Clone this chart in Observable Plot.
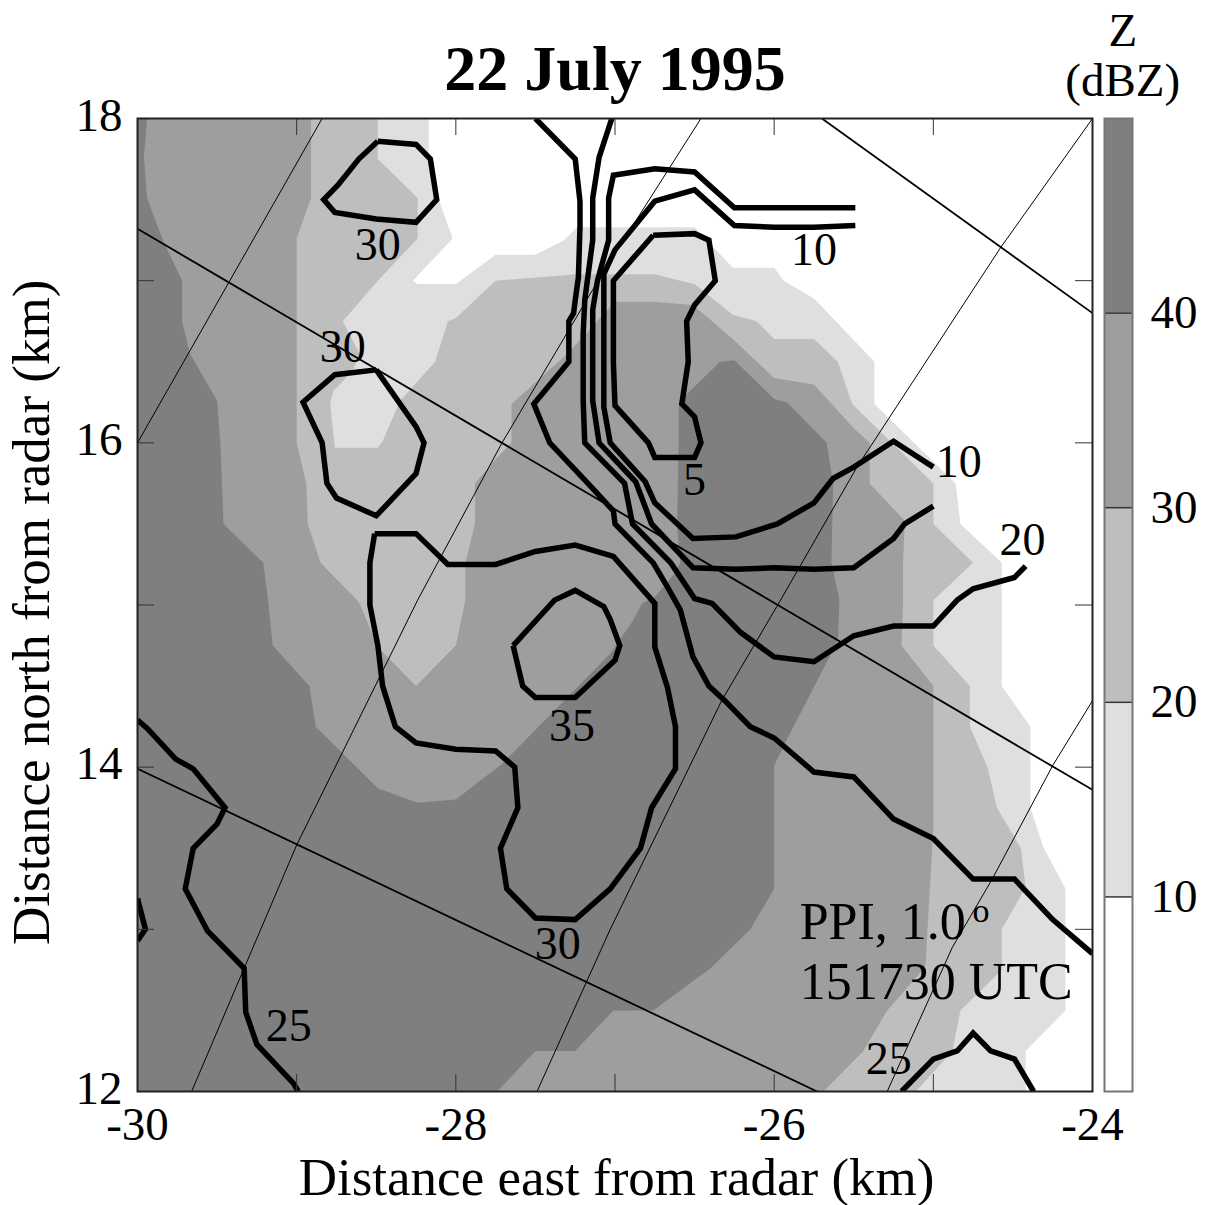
<!DOCTYPE html>
<html>
<head>
<meta charset="utf-8">
<script src="https://cdn.jsdelivr.net/npm/d3@7"></script>
<script src="https://cdn.jsdelivr.net/npm/@observablehq/plot@0.6"></script>
<style>
html,body{margin:0;padding:0;background:#fff}
#wrap{position:relative;width:1207px;height:1205px;overflow:hidden}
#wrap svg{position:absolute;top:0;background:transparent}
</style>
</head>
<body>
<div id="wrap"></div>
<script>
// Filled reflectivity regions (km east, km north); each is the area at or above the level
const z10 = [[-28.17,18],[-28.17,17.75],[-28.11,17.51],[-28.02,17.26],[-28.27,17],[-28.24,16.98],[-28,16.98],[-27.75,17.16],[-27.5,17.16],[-27.32,17.25],[-27.24,17.33],[-26.5,17.33],[-26.26,17.08],[-26,17.08],[-25.94,17],[-25.75,16.89],[-25.37,16.5],[-25.37,16.24],[-24.86,15.75],[-24.83,15.5],[-24.57,15.26],[-24.57,14.5],[-24.39,14.25],[-24.39,13.75],[-24.31,13.51],[-24.17,13.25],[-24.17,12.5],[-24.42,12.25],[-24.42,12],[-30,12],[-30,18]];
const z20 = [[-28.49,18],[-28.49,17.75],[-28.24,17.51],[-28.24,17.26],[-28.49,17],[-28.71,16.75],[-28.6,16.54],[-28.66,16.43],[-28.77,16.32],[-28.79,16.24],[-28.76,15.97],[-28.49,15.97],[-28.46,16.01],[-28.35,16.26],[-28.13,16.5],[-28.05,16.75],[-28,16.77],[-27.75,17],[-27.24,17.04],[-26.75,17.04],[-26.59,17],[-26.5,16.98],[-26.26,16.79],[-26.11,16.75],[-26,16.64],[-25.75,16.64],[-25.6,16.5],[-25.51,16.24],[-25,15.75],[-25,15.5],[-24.75,15.26],[-25,15.03],[-25,14.75],[-24.77,14.5],[-24.77,14.25],[-24.66,14],[-24.6,13.75],[-24.45,13.5],[-24.42,13.26],[-24.57,13],[-24.57,12.75],[-24.83,12.5],[-24.88,12.25],[-25.11,12],[-30,12],[-30,18]];
const z30 = [[-28.91,18],[-28.91,17.51],[-29,17.26],[-29,16],[-28.94,15.75],[-28.93,15.5],[-28.85,15.26],[-28.62,15.03],[-28.6,15],[-28.49,14.74],[-28.25,14.5],[-28,14.75],[-27.94,15.03],[-27.94,15.26],[-27.88,15.5],[-27.88,15.75],[-27.76,15.89],[-27.65,16],[-27.65,16.24],[-27.3,16.55],[-27,16.87],[-26.76,16.87],[-26.51,16.85],[-26.26,16.64],[-26,16.4],[-25.75,16.36],[-25.5,16.09],[-25.4,16],[-25.4,15.75],[-25.18,15.52],[-25.19,15.26],[-25.19,15.03],[-25.2,14.75],[-25,14.5],[-25,13.63],[-25.05,12.77],[-25.29,12.5],[-25.44,12.25],[-25.69,12],[-30,12],[-30,18]];
const z40 = [[-29.94,18],[-29.96,17.76],[-29.94,17.51],[-29.84,17.25],[-29.72,17],[-29.72,16.75],[-29.67,16.55],[-29.5,16.26],[-29.48,16.01],[-29.46,15.5],[-29.21,15.26],[-29.18,15.03],[-29.15,14.75],[-28.92,14.5],[-28.88,14.25],[-28.49,13.87],[-28.24,13.78],[-28,13.8],[-27.71,14.02],[-27.03,14.7],[-26.89,14.9],[-26.83,15.01],[-26.75,15.05],[-26.63,15.19],[-26.59,15.26],[-26.61,15.48],[-26.6,16.01],[-26.6,16.24],[-26.57,16.28],[-26.34,16.5],[-26.25,16.51],[-26,16.27],[-25.92,16.25],[-25.67,16],[-25.63,15.75],[-25.64,15.26],[-25.59,15.03],[-25.6,14.78],[-25.92,14.17],[-26,14.01],[-26,13.25],[-26.15,13],[-26.4,12.76],[-26.76,12.5],[-27.01,12.5],[-27.25,12.25],[-27.5,12.25],[-27.74,12],[-30,12],[-30,18]];

// Radial velocity contours
const blob30a = [[-28.49,17.86],[-28.25,17.84],[-28.16,17.75],[-28.12,17.5],[-28.25,17.36],[-28.5,17.38],[-28.76,17.42],[-28.83,17.5],[-28.74,17.59],[-28.61,17.75],[-28.49,17.86]];
const blob30b = [[-28.5,16.45],[-28.76,16.42],[-28.96,16.25],[-28.84,16],[-28.81,15.75],[-28.75,15.66],[-28.5,15.55],[-28.25,15.81],[-28.2,16],[-28.25,16.1],[-28.5,16.45]];
const loop30 = [[-28.51,15.44],[-28.25,15.44],[-28.05,15.25],[-27.75,15.25],[-27.5,15.33],[-27.25,15.37],[-27.01,15.3],[-26.75,15.01],[-26.75,14.74],[-26.67,14.49],[-26.62,14.25],[-26.62,13.99],[-26.77,13.75],[-26.84,13.5],[-27.03,13.25],[-27.25,13.06],[-27.5,13.07],[-27.68,13.25],[-27.72,13.5],[-27.61,13.75],[-27.63,14],[-27.75,14.1],[-28,14.11],[-28.25,14.15],[-28.38,14.25],[-28.46,14.5],[-28.49,14.75],[-28.54,15],[-28.54,15.26],[-28.51,15.44]];
const blob35 = [[-27.64,14.75],[-27.58,14.5],[-27.5,14.43],[-27.25,14.43],[-27,14.66],[-26.97,14.75],[-27.03,14.91],[-27.07,14.99],[-27.25,15.09],[-27.38,15.03],[-27.64,14.75]];
const west25 = [[-30,14.29],[-29.94,14.24],[-29.76,14.05],[-29.65,13.99],[-29.45,13.75],[-29.5,13.65],[-29.65,13.5],[-29.7,13.25],[-29.56,12.99],[-29.33,12.76],[-29.32,12.49],[-29.25,12.29],[-29.02,12.05],[-28.99,12]];
const edgeTick = [[-30,13.19],[-29.95,13],[-30,12.93]];
const south25 = [[-25.2,12],[-25,12.2],[-24.85,12.25],[-24.75,12.36],[-24.64,12.25],[-24.49,12.2],[-24.37,12]];
const loop5 = [[-26.76,17.28],[-26.5,17.29],[-26.41,17.25],[-26.37,17],[-26.5,16.85],[-26.55,16.75],[-26.54,16.5],[-26.58,16.24],[-26.5,16.16],[-26.46,16],[-26.5,15.91],[-26.75,15.91],[-26.79,16],[-27,16.23],[-27.01,16.49],[-27.01,17],[-26.76,17.28]];
const line25 = [[-27.5,18],[-27.25,17.75],[-27.22,17.49],[-27.22,17.33],[-27.23,17.02],[-27.25,16.88],[-27.26,16.8],[-27.29,16.75],[-27.29,16.5],[-27.51,16.24],[-27.41,16],[-27.17,15.75],[-27.01,15.58],[-27,15.5],[-26.76,15.26],[-26.67,15.11],[-26.59,14.97],[-26.51,14.68],[-26.41,14.5],[-26.31,14.41],[-26.15,14.25],[-26,14.18],[-25.75,13.97],[-25.5,13.94],[-25.25,13.68],[-25,13.56],[-24.75,13.31],[-24.49,13.31],[-24.25,13.06],[-24,12.85]];
const line20 = [[-27.02,18],[-27.1,17.76],[-27.14,17.51],[-27.14,17.25],[-27.19,16.88],[-27.2,16.67],[-27.2,16.26],[-27.19,16],[-26.94,15.75],[-26.89,15.5],[-26.65,15.26],[-26.5,15.04],[-26.39,15.01],[-26.21,14.83],[-26,14.68],[-25.75,14.65],[-25.5,14.81],[-25.25,14.87],[-25,14.87],[-24.85,15.03],[-24.75,15.1],[-24.49,15.17],[-24.42,15.24]];
const line15 = [[-25.49,17.45],[-25.75,17.45],[-26,17.45],[-26.25,17.45],[-26.5,17.67],[-26.75,17.69],[-27.01,17.65],[-27.04,17.51],[-27.04,17.25],[-27.11,17],[-27.14,16.82],[-27.14,16.26],[-27.1,16],[-26.87,15.76],[-26.77,15.5],[-26.51,15.23],[-26.24,15.22],[-26,15.23],[-25.75,15.22],[-25.5,15.23],[-25.25,15.41],[-25.18,15.5],[-25,15.61]];
const line10 = [[-25.49,17.34],[-25.75,17.33],[-26,17.33],[-26.25,17.34],[-26.5,17.56],[-26.75,17.49],[-27,17.19],[-27.07,17.04],[-27.07,16.22],[-27.03,16],[-26.81,15.76],[-26.75,15.63],[-26.51,15.41],[-26.24,15.42],[-25.98,15.5],[-25.75,15.63],[-25.63,15.78],[-25.5,15.85],[-25.25,16.01],[-25,15.85]];

// Radar azimuth spokes (thin) and range arcs (medium)
const spoke1 = [[-30,16],[-28.84,18]];
const spoke2 = [[-29.66,12],[-29,13.52],[-28.24,15.03],[-27.71,16],[-27.07,17.06],[-26.46,18]];
const spoke3 = [[-27.49,12],[-27.03,13],[-26.33,14.41],[-25.96,15.03],[-25.48,15.85],[-24.58,17.2],[-24,18]];
const spoke4 = [[-25.29,12],[-24.88,12.89],[-24.63,13.31],[-24.25,14.01],[-24,14.41]];
const arc1 = [[-30,17.32],[-24,13.86]];
const arc2 = [[-30,13.99],[-25.73,12]];
const arc3 = [[-25.7,18],[-24,16.8]];

const contourLabelText = ["30","30","10","10","5","20","35","30","25","25"];
const contourLabelX = [-28.49,-28.71,-25.75,-24.84,-26.5,-24.44,-27.27,-27.36,-29.05,-25.28];
const contourLabelY = [17.22,16.59,17.19,15.88,15.77,15.4,14.25,12.91,12.4,12.2];

const xLabelTicks = [-30,-28,-26,-24];
const yLabelTicks = [12,14,16,18];
const xMinorTicks = [-29,-28,-27,-26,-25];
const yMinorTicks = [13,14,15,16,17];

const bandLow = [0,10,20,30,40];
const bandHigh = [10,20,30,40,50];
const bandColor = ["#ffffff","#dfdfdf","#bebebe","#9e9e9e","#7f7f7f"];
const barTicks = [10,20,30,40];

const serif = "'Liberation Serif','Times New Roman',serif";
const px = d => d[0], py = d => d[1];
const fillRegion = (pts, color) => Plot.line(pts, {x:px, y:py, fill:color, stroke:"none"});
const contour = pts => Plot.line(pts, {x:px, y:py, stroke:"#000", strokeWidth:5.5, strokeLinejoin:"miter", strokeMiterlimit:4, strokeLinecap:"butt", clip:true});
const spoke = pts => Plot.line(pts, {x:px, y:py, stroke:"#000", strokeWidth:1, clip:true});
const arc = pts => Plot.line(pts, {x:px, y:py, stroke:"#000", strokeWidth:1.8, clip:true});

const main = Plot.plot({
  width:1207, height:1205,
  marginLeft:137, marginRight:115, marginTop:118, marginBottom:114,
  style:{fontFamily:serif, background:"transparent", overflow:"visible"},
  x:{domain:[-30,-24]},
  y:{domain:[12,18]},
  marks:[
    fillRegion(z10,"#dfdfdf"),
    fillRegion(z20,"#bebebe"),
    fillRegion(z30,"#9e9e9e"),
    fillRegion(z40,"#7f7f7f"),
    spoke(spoke1),spoke(spoke2),spoke(spoke3),spoke(spoke4),
    arc(arc1),arc(arc2),arc(arc3),
    ...[blob30a,blob30b,loop30,blob35,west25,edgeTick,south25,loop5,line25,line20,line15,line10].map(contour),
    Plot.ruleX(xMinorTicks,{x:d=>d,y1:12,y2:12.105,stroke:"#333",strokeWidth:1}),
    Plot.ruleX(xMinorTicks,{x:d=>d,y1:18,y2:17.895,stroke:"#333",strokeWidth:1}),
    Plot.ruleY(yMinorTicks,{y:d=>d,x1:-30,x2:-29.893,stroke:"#333",strokeWidth:1}),
    Plot.ruleY(yMinorTicks,{y:d=>d,x1:-24,x2:-24.107,stroke:"#333",strokeWidth:1}),
    Plot.frame({stroke:"#222",strokeWidth:2}),
    Plot.axisX({anchor:"bottom",ticks:xLabelTicks,tickSize:0,tickPadding:15,tickFormat:d=>String(d),fontSize:47,label:null}),
    Plot.axisY({anchor:"left",ticks:yLabelTicks,tickSize:0,tickPadding:15,tickFormat:d=>String(d),fontSize:47,label:null,dy:-3}),
    Plot.text(contourLabelText,{x:(d,i)=>contourLabelX[i],y:(d,i)=>contourLabelY[i],text:d=>d,fontSize:46,fill:"#000"}),
    Plot.text(["PPI, 1.0"],{x:[-25.84],y:[13.04],textAnchor:"start",fontSize:52,fill:"#000"}),
    Plot.text(["o"],{x:[-24.7],y:[13.11],fontSize:34,fill:"#000"}),
    Plot.text(["151730 UTC"],{x:[-25.84],y:[12.67],textAnchor:"start",fontSize:52,fill:"#000"}),
    Plot.text(["22 July 1995"],{x:[-27],y:[18.3],fontSize:64,fontWeight:"bold",fill:"#000"}),
    Plot.text(["Distance east from radar (km)"],{x:[-26.99],y:[11.465],fontSize:53,fill:"#000"}),
    Plot.text(["Distance north from radar (km)"],{x:[-30.665],y:[14.955],rotate:-90,fontSize:53,fill:"#000"}),
    Plot.text(["Z"],{x:[-23.81],y:[18.54],fontSize:47,fill:"#000"}),
    Plot.text(["(dBZ)"],{x:[-23.81],y:[18.23],fontSize:47,fill:"#000"})
  ]
});

const bar = Plot.plot({
  width:115, height:1205,
  marginLeft:12, marginRight:75, marginTop:118, marginBottom:114,
  style:{fontFamily:serif, background:"transparent", overflow:"visible"},
  x:{domain:[0,1], axis:null},
  y:{domain:[0,50]},
  marks:[
    Plot.rect(bandLow,{x1:0,x2:1,y1:d=>d,y2:(d,i)=>bandHigh[i],fill:(d,i)=>bandColor[i]}),
    Plot.ruleY(barTicks,{stroke:"#333",strokeWidth:1.5}),
    Plot.frame({stroke:"#777",strokeWidth:2}),
    Plot.axisY({anchor:"right",ticks:barTicks,tickSize:0,tickPadding:18,fontSize:47,label:null,tickFormat:d=>String(d)})
  ]
});
bar.style.left = "1092px";
main.style.left = "0";
const wrap = document.getElementById("wrap");
wrap.appendChild(main);
wrap.appendChild(bar);
</script>
</body>
</html>
